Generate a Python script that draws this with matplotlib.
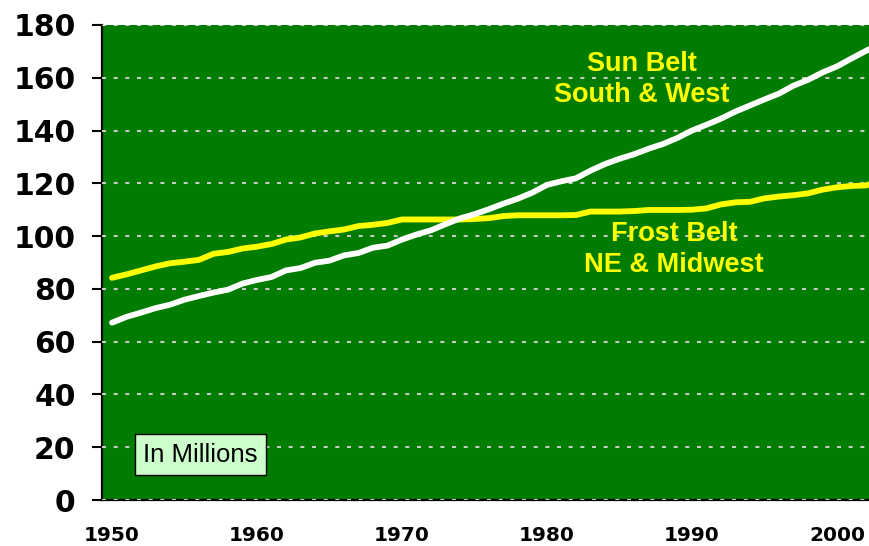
import matplotlib
matplotlib.use("Agg")
import matplotlib.pyplot as plt

years = list(range(1950, 2004))
frost_belt = [84.2, 85.5, 87.0, 88.5, 89.7, 90.3, 91.0, 93.3, 94.0, 95.3,
              96.0, 97.0, 98.7, 99.5, 101.0, 101.8, 102.5, 103.8, 104.3, 105.0,
              106.3, 106.3, 106.3, 106.3, 106.3, 106.5, 106.8, 107.6, 107.9, 107.9,
              107.9, 107.9, 108.0, 109.3, 109.3, 109.3, 109.5, 109.9, 109.9, 109.9,
              110.0, 110.5, 112.0, 112.8, 113.0, 114.3, 115.0, 115.5, 116.2, 117.6,
              118.5, 119.0, 119.2, 121.0]
sun_belt = [67.2, 69.4, 71.0, 72.7, 74.0, 75.9, 77.3, 78.6, 79.7, 82.0,
            83.4, 84.5, 87.0, 87.9, 89.9, 90.7, 92.7, 93.6, 95.6, 96.4,
            98.7, 100.6, 102.2, 104.5, 106.7, 108.3, 110.2, 112.3, 114.2, 116.5,
            119.4, 120.8, 121.9, 124.8, 127.3, 129.3, 131.0, 133.1, 134.9, 137.2,
            140.0, 142.2, 144.5, 147.2, 149.5, 151.8, 154.0, 157.0, 159.2, 162.0,
            164.3, 167.3, 170.2, 173.0]
x_ticks = [1950, 1960, 1970, 1980, 1990, 2000]
y_ticks = [0, 20, 40, 60, 80, 100, 120, 140, 160, 180]

plt.rcParams['lines.scale_dashes'] = False

W, H = 870, 546
fig = plt.figure(figsize=(W / 100, H / 100), dpi=100)
ax = fig.add_axes([102 / W, 46 / H, 768 / W, 475 / H])
ax.set_facecolor('#007C00')

ax.plot(years, frost_belt, color='#FFFF00', lw=4.2, solid_capstyle='round',
        solid_joinstyle='round', zorder=3)
ax.plot(years, sun_belt, color='white', lw=4.2, solid_capstyle='round',
        solid_joinstyle='round', zorder=4)

ax.set_xlim(1949.31, 2002.28)
ax.set_ylim(0, 180)
ax.set_yticks(y_ticks)
ax.set_xticks(x_ticks)
ax.set_xticklabels([str(v) for v in x_ticks], family='DejaVu Sans',
                   fontweight='bold', fontsize=14.5)
ax.set_yticklabels([str(v) for v in y_ticks], family='DejaVu Sans',
                   fontweight='bold', fontsize=21.5)
ax.tick_params(axis='y', length=7, width=1.5, pad=12, color='black')
ax.tick_params(axis='x', length=0, pad=19)

ax.yaxis.grid(True, color='#C8C8C8', lw=1.5, linestyle=(0, (2.9, 5.5)))
ax.set_axisbelow(False)
for gl in ax.get_ygridlines():
    gl.set_zorder(2)

for s in ['top', 'right']:
    ax.spines[s].set_visible(False)
for s in ['left', 'bottom']:
    ax.spines[s].set_linewidth(1.6)
    ax.spines[s].set_color('black')

ax.text(1986.55, 159.3, "Sun Belt\nSouth & West", color='#FFFF00',
        family='Liberation Sans', fontweight='bold', fontsize=19.5,
        ha='center', va='center', multialignment='center', linespacing=1.22,
        zorder=5)
ax.text(1988.76, 94.9, "Frost Belt\nNE & Midwest", color='#FFFF00',
        family='Liberation Sans', fontweight='bold', fontsize=19.5,
        ha='center', va='center', multialignment='center', linespacing=1.22,
        zorder=5)
ax.text(1956.1, 17.2, "In Millions", color='black', family='Liberation Sans',
        fontsize=18.5, ha='center', va='center', zorder=6,
        bbox=dict(boxstyle='square,pad=0.33', facecolor='#CCFFCC',
                  edgecolor='black', linewidth=1.0))

fig.savefig('out.png', dpi=100)
